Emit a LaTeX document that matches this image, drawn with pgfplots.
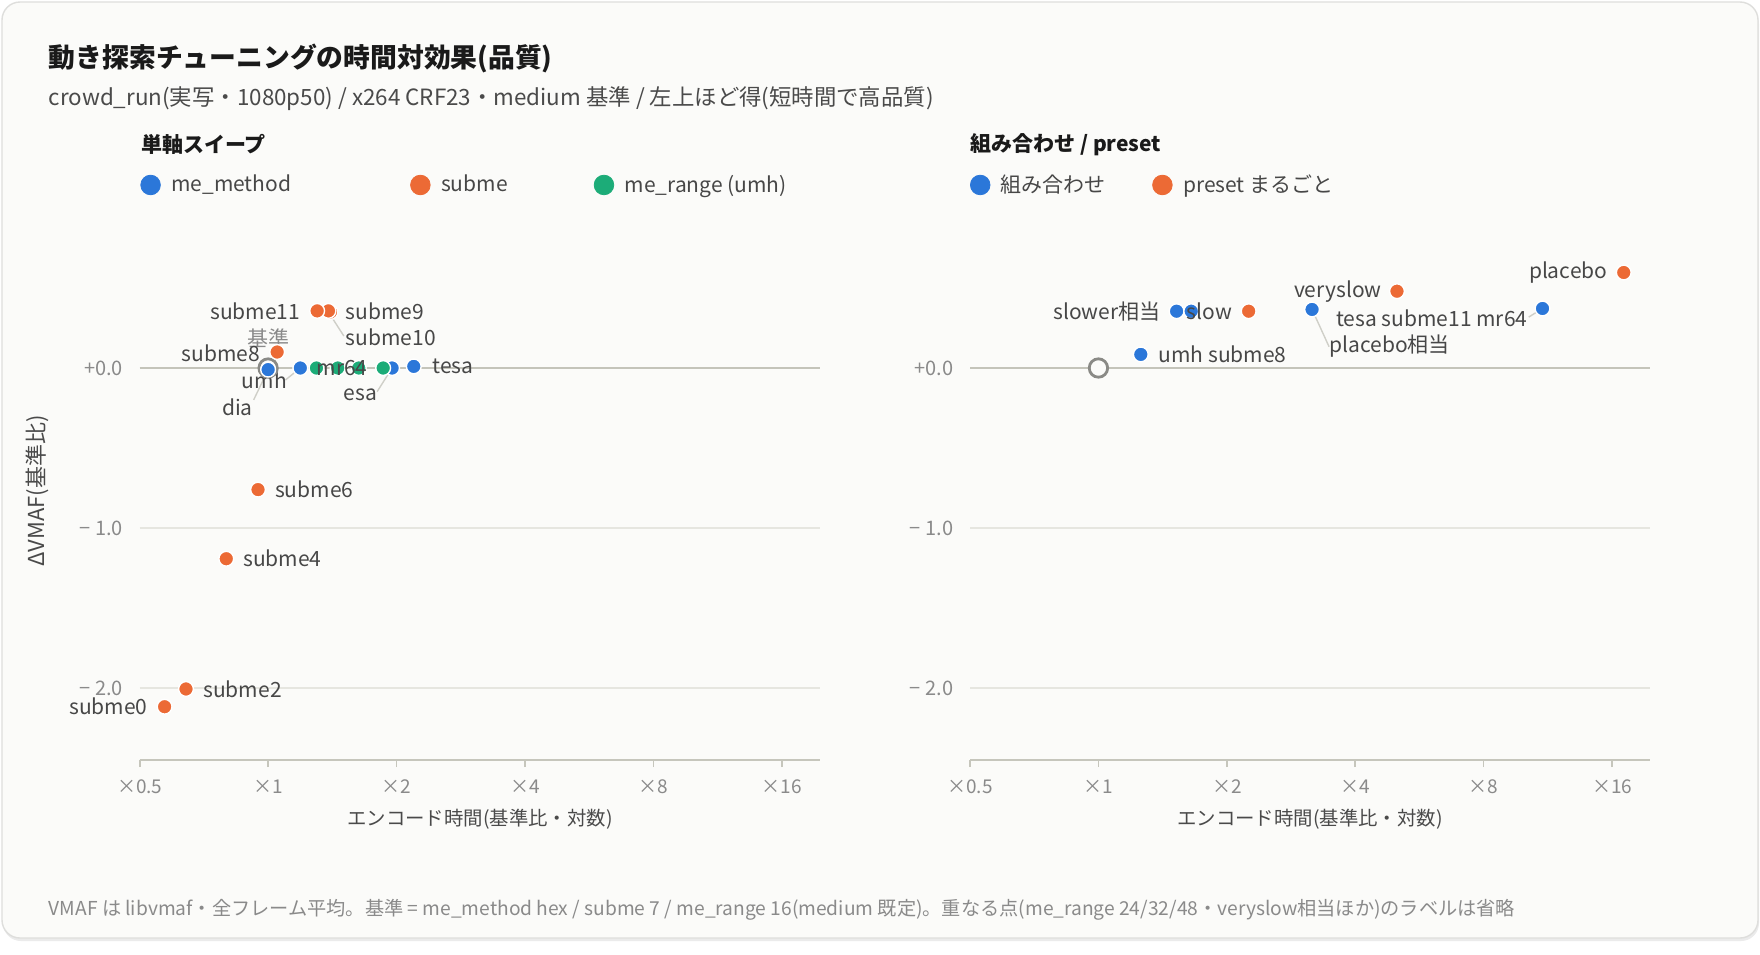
\documentclass[border=0pt]{standalone}
\usepackage{fontspec}
\setmainfont{Noto Sans CJK JP}
\usepackage{pgfplots}
\pgfplotsset{compat=1.18}

\definecolor{cblue}{HTML}{2B77D9}
\definecolor{corange}{HTML}{EC6A35}
\definecolor{cgreen}{HTML}{1CAC78}
\definecolor{cardbg}{HTML}{FBFBF9}
\definecolor{cardline}{HTML}{DEDEDC}
\definecolor{ringc}{HTML}{8A8A86}
\definecolor{axisc}{HTML}{C6C6BC}
\definecolor{gridc}{HTML}{E6E6E0}
\definecolor{zeroc}{HTML}{C4C4BA}
\definecolor{leadc}{HTML}{CFCFC8}
\definecolor{titlec}{HTML}{1A1A1A}
\definecolor{subc}{HTML}{4A4A4A}
\definecolor{labc}{HTML}{474747}
\definecolor{tickc}{HTML}{8A8A8A}

% 1 px of the reference = 0.5pt
\pgfplotsset{
  every axis/.append style={
    scale only axis, width=340.15pt, height=268pt,
    clip=false,
    xmin=0.5, xmax=19.67,
    ymin=-2.45, ymax=0.9,
    xtick={0.5,1,2,4,8,16},
    xticklabels={×0.5,×1,×2,×4,×8,×16},
    ytick={-2,-1}, yticklabels={−\hspace{2.2pt}2.0,−\hspace{2.2pt}1.0},
    extra y ticks={0}, extra y tick labels={+0.0},
    extra y tick style={grid style={zeroc, line width=1.3pt}},
    ymajorgrids, grid style={gridc, line width=0.7pt},
    axis x line*=bottom, axis y line*=left,
    y axis line style={draw=none},
    x axis line style={-, draw=axisc, line width=1pt},
    ytick style={draw=none},
    xtick style={draw=axisc, line width=0.8pt},
    tick align=outside, major tick length=3.5pt,
    xticklabel style={font=\fontsize{9.5}{11}\selectfont, text=tickc,
      anchor=center, inner sep=0pt, yshift=-10pt},
    yticklabel style={font=\fontsize{10}{11}\selectfont, text=tickc,
      anchor=east, inner sep=0pt, xshift=-4.7pt},
    legend style={draw=none, fill=none, legend columns=-1, inner sep=0pt,
      nodes={inner sep=0pt, font=\fontsize{10.5}{12}\selectfont, text=labc},
      /tikz/every odd column/.style={column sep=5.45pt},
      /tikz/every even column/.style={column sep=0pt}},
  },
  ptdots/.style={only marks, mark=*, color=#1, mark size=3.7pt,
    mark options={draw=white, line width=0.7pt}, forget plot},
  ptring/.style={only marks, mark=*, mark size=4.6pt,
    mark options={draw=ringc, fill=cardbg, line width=1.4pt}, forget plot},
  ptlead/.style={leadc, line width=0.7pt, forget plot},
  legdot/.style={only marks, mark=*, color=#1, mark size=4.9pt, mark options={draw=none}},
}
\tikzset{lab/.style={inner sep=0pt, text=labc, font=\fontsize{10.5}{12}\selectfont},
  axtitle/.style={inner sep=0pt, text=subc, font=\fontsize{9.7}{11}\selectfont}}

\begin{document}
\begin{tikzpicture}[x=1pt,y=1pt]
\fill[white] (0,0) rectangle (880,-477);
\fill[black!8, rounded corners=9pt] (1.5,-3) rectangle (879.5,-470.5);
\filldraw[fill=cardbg, draw=cardline, line width=0.7pt, rounded corners=9pt] (1,-1) rectangle (879,-469);

\node[anchor=west, inner sep=0pt, text=titlec, font=\bfseries\fontsize{13.4}{16}\selectfont] at (24.2,-29.2) {動き探索チューニングの時間対効果(品質)};
\node[anchor=west, inner sep=0pt, text=subc, font=\fontsize{11.2}{13}\selectfont] at (24.2,-49.5) {crowd\_run(実写・1080p50) / x264 CRF23・medium 基準 / 左上ほど得(短時間で高品質)};
\node[anchor=west, inner sep=0pt, text=titlec, font=\bfseries\fontsize{10.5}{12}\selectfont] at (70.3,-72.1) {単軸スイープ};
\node[anchor=west, inner sep=0pt, text=titlec, font=\bfseries\fontsize{10.5}{12}\selectfont] at (485,-72.1) {組み合わせ / preset};
\node[axtitle, rotate=90, font=\fontsize{11}{12}\selectfont] at (18.5,-245.5) {ΔVMAF(基準比)};
\node[axtitle] at (240,-409.5) {エンコード時間(基準比・対数)};
\node[axtitle] at (655,-409.5) {エンコード時間(基準比・対数)};

% ---------- left: single-axis sweeps ----------
\begin{axis}[at={(69.85pt,-380pt)}, anchor=south west,
  xmode=log, log basis x=2,
  legend style={at={(rel axis cs:0.001,1.0728)}, anchor=west}]
\addplot[ptring] coordinates {(1,0)};
\addplot[ptlead] coordinates {(0.995,-0.023) (0.925,-0.199)};
\addplot[ptlead] coordinates {(1.19,0) (1.098,-0.075)};
\addplot[ptlead] coordinates {(1.953,0) (1.801,-0.148)};
\addplot[ptlead] coordinates {(1.40,0.33) (1.505,0.20)};
% me_method (dia, umh, esa, tesa)
\addplot[ptdots=cblue] coordinates {(1.00,-0.01) (1.19,0.00) (1.953,0.00) (2.195,0.01)};
% subme 0..11 (7 = baseline)
\addplot[ptdots=corange] coordinates {
  (0.572,-2.117) (0.642,-2.006) (0.798,-1.192) (0.947,-0.760)
  (1.05,0.10) (1.40,0.35) (1.385,0.357) (1.303,0.357)};
% me_range 24/32/48/64
\addplot[ptdots=cgreen] coordinates {(1.298,0.00) (1.456,0.00) (1.631,0.00) (1.861,0.00)};
\addlegendimage{legdot=cblue}
\addlegendentry{\makebox[119.65pt][l]{me\_method}}
\addlegendimage{legdot=corange}
\addlegendentry{\makebox[76.54pt][l]{subme}}
\addlegendimage{legdot=cgreen}
\addlegendentry{me\_range (umh)}
\node[lab, text=tickc] at (axis cs:1.0,0.187) {基準};
\node[lab, anchor=east, xshift=-8.3pt] at (axis cs:0.572,-2.117) {subme0};
\node[lab, anchor=west, xshift=8.5pt] at (axis cs:0.642,-2.006) {subme2};
\node[lab, anchor=west, xshift=8.3pt] at (axis cs:0.798,-1.192) {subme4};
\node[lab, anchor=west, xshift=8.3pt] at (axis cs:0.947,-0.760) {subme6};
\node[lab, anchor=east, xshift=-8.3pt, yshift=-0.8pt] at (axis cs:1.05,0.10) {subme8};
\node[lab, anchor=east, xshift=-8.3pt] at (axis cs:1.303,0.357) {subme11};
\node[lab, anchor=west, xshift=8.3pt] at (axis cs:1.385,0.357) {subme9};
\node[lab, anchor=west] at (axis cs:1.518,0.189) {subme10};
\node[lab, anchor=west, xshift=9.2pt] at (axis cs:2.195,0.01) {tesa};
\node[lab] at (axis cs:0.980,-0.075) {umh};
\node[lab] at (axis cs:0.847,-0.243) {dia};
\node[lab] at (axis cs:1.646,-0.168) {esa};
\coordinate (mrlab) at (axis cs:1.491,0.0);
\end{axis}
\node[lab] at (mrlab) {mr64};

% ---------- right: combinations / presets ----------
\begin{axis}[at={(485pt,-380pt)}, anchor=south west,
  xmode=log, log basis x=2,
  legend style={at={(rel axis cs:0.0,1.0728)}, anchor=west}]
\addplot[ptring] coordinates {(1,0)};
\addplot[ptlead] coordinates {(10.99,0.372) (10.20,0.318)};
\addplot[ptlead] coordinates {(3.168,0.366) (3.473,0.133)};
% combinations
\addplot[ptdots=cblue] coordinates {(1.257,0.085) (1.525,0.355) (1.650,0.355) (3.168,0.366) (10.99,0.372)};
% whole presets
\addplot[ptdots=corange] coordinates {(2.25,0.355) (5.01,0.48) (17.04,0.597)};
\addlegendimage{legdot=cblue}
\addlegendentry{\makebox[75.85pt][l]{組み合わせ}}
\addlegendimage{legdot=corange}
\addlegendentry{preset まるごと}
\node[lab, anchor=west, xshift=8.75pt] at (axis cs:1.257,0.085) {umh subme8};
\node[lab, anchor=east, xshift=-8pt] at (axis cs:1.525,0.355) {slower相当};
\node[lab, anchor=east, xshift=-7.5pt] at (axis cs:5.01,0.48) {veryslow};
\node[lab, anchor=east, xshift=-8pt] at (axis cs:17.04,0.597) {placebo};
\node[lab] at (axis cs:6.046,0.31) {tesa subme11 mr64};
\node[lab, anchor=west] at (axis cs:3.473,0.137) {placebo相当};
\coordinate (slowlab) at (axis cs:2.25,0.355);
\end{axis}
\node[lab, anchor=east, xshift=-8pt] at (slowlab) {slow};

\node[anchor=west, inner sep=0pt, text=tickc, font=\fontsize{9.6}{11}\selectfont] at (24.2,-455) {VMAF は libvmaf・全フレーム平均。基準 = me\_method hex / subme 7 / me\_range 16(medium 既定)。重なる点(me\_range 24/32/48・veryslow相当ほか)のラベルは省略};
\end{tikzpicture}
\end{document}
